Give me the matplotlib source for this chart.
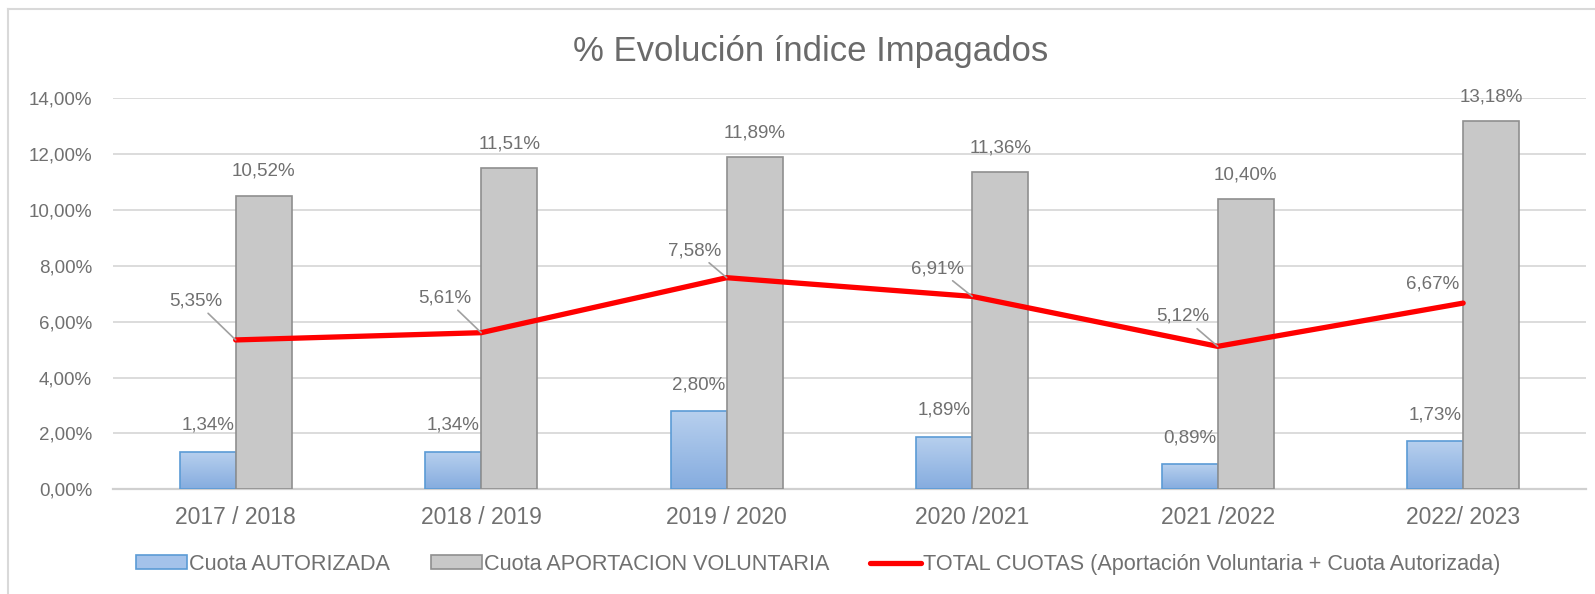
import matplotlib
matplotlib.use("Agg")
import matplotlib.pyplot as plt
import numpy as np
from matplotlib.lines import Line2D
from matplotlib.patches import Patch
from matplotlib.ticker import FuncFormatter
from matplotlib.colors import LinearSegmentedColormap
from matplotlib import font_manager

categories = ["2017 / 2018", "2018 / 2019", "2019 / 2020", "2020 /2021", "2021 /2022", "2022/ 2023"]
cuota_autorizada = [1.34, 1.34, 2.80, 1.89, 0.89, 1.73]
cuota_voluntaria = [10.52, 11.51, 11.89, 11.36, 10.40, 13.18]
total_cuotas = [5.35, 5.61, 7.58, 6.91, 5.12, 6.67]
yticks = [0, 2, 4, 6, 8, 10, 12, 14]

# label offsets (points) for line labels, style only
line_label_offsets = [(-29, 28), (-26, 25), (-23, 19.5), (-25, 20), (-25, 21.5), (-22, 14)]
line_label_leader = [True, True, True, True, True, False]

plt.rcParams['font.family'] = ['Liberation Sans', 'DejaVu Sans']
names = {f.name for f in font_manager.fontManager.ttflist}
if 'Liberation Sans Narrow' in names:
    NUMFAM = ['Liberation Sans Narrow', 'Liberation Sans', 'DejaVu Sans']
    NFS = 15
else:
    NUMFAM = ['Liberation Sans', 'DejaVu Sans']
    NFS = 13.5
TXT = '#707070'

fig = plt.figure(figsize=(15.95, 5.94), dpi=100)
ax = fig.add_axes([0.0708, 0.1763, 0.9235, 0.6579])

x = np.arange(len(categories))
w = 0.228

# blue bars with gradient
blue_bars = ax.bar(x - w/2, cuota_autorizada, width=w, color='none',
                   edgecolor='#5b9bd5', linewidth=1.2, zorder=3)
grad = np.linspace(0, 1, 256).reshape(-1, 1)
cmap_blue = LinearSegmentedColormap.from_list('b', ['#85acdf', '#b8d0ee'])
for b in blue_bars:
    bx, by = b.get_x(), b.get_y()
    bw, bh = b.get_width(), b.get_height()
    im = ax.imshow(grad, cmap=cmap_blue, aspect='auto', origin='lower',
                   extent=(bx, bx + bw, by, by + bh), zorder=2.5)
    im.set_clip_path(b)

gray_bars = ax.bar(x + w/2, cuota_voluntaria, width=w, color='#c8c8c8',
                   edgecolor='#8f8f8f', linewidth=1.2, zorder=3.2)

ax.plot(x, total_cuotas, color='#ff0000', linewidth=3.8, zorder=4,
        solid_capstyle='round', solid_joinstyle='round')

def fmt(v):
    return f"{v:.2f}%".replace('.', ',')

# data labels
for xi, v in zip(x, cuota_autorizada):
    ax.annotate(fmt(v), (xi - w/2, v), xytext=(0, 19),
                textcoords='offset points', ha='center', va='center',
                fontsize=NFS, family=NUMFAM, color=TXT, zorder=3.1)
for xi, v in zip(x, cuota_voluntaria):
    ax.annotate(fmt(v), (xi + w/2, v), xytext=(0, 17.5),
                textcoords='offset points', ha='center', va='center',
                fontsize=NFS, family=NUMFAM, color=TXT, zorder=5)
for xi, v, off, ld in zip(x, total_cuotas, line_label_offsets, line_label_leader):
    kw = {}
    if ld:
        kw['arrowprops'] = dict(arrowstyle='-', color='#a0a0a0', lw=1.2,
                                shrinkA=1, shrinkB=0)
    ax.annotate(fmt(v), (xi, v), xytext=off,
                textcoords='offset points', ha='center', va='center',
                fontsize=NFS, family=NUMFAM, color=TXT, zorder=5, **kw)

ax.set_xlim(-0.5, len(categories) - 0.5)
ax.set_ylim(0, 14)
ax.set_yticks(yticks)
ax.yaxis.set_major_formatter(FuncFormatter(lambda v, p: fmt(v)))
ax.set_xticks(x)
ax.set_xticklabels(categories)
ax.tick_params(axis='both', length=0, labelcolor=TXT)
ax.tick_params(axis='y', pad=15)
ax.tick_params(axis='x', pad=12, labelsize=16.5)
for t in ax.get_yticklabels():
    t.set_fontfamily(NUMFAM)
    t.set_fontsize(NFS)
ax.grid(axis='y', color='#d9d9d9', linewidth=1.3, zorder=0)
ax.set_axisbelow(True)
for s in ['top', 'right', 'left']:
    ax.spines[s].set_visible(False)
ax.spines['bottom'].set_color('#d0d0d0')
ax.spines['bottom'].set_linewidth(1.6)
ax.spines['bottom'].set_zorder(1)

fig.text(0.508, 0.913, "% Evolución índice Impagados", ha='center', va='center',
         fontsize=25, color='#6a6a6a')

handles = [Patch(facecolor='#a4c2ea', edgecolor='#5b9bd5', linewidth=1.2),
           Patch(facecolor='#c8c8c8', edgecolor='#8f8f8f', linewidth=1.2),
           Line2D([0], [0], color='#ff0000', linewidth=3.8, solid_capstyle='round')]
labels = ["Cuota AUTORIZADA", "Cuota APORTACION VOLUNTARIA",
          "TOTAL CUOTAS (Aportación Voluntaria + Cuota Autorizada)"]
leg = fig.legend(handles, labels, loc='center', bbox_to_anchor=(0.513, 0.050), ncol=3,
                 frameon=False, fontsize=15.6, handlelength=2.35, handleheight=0.6,
                 handletextpad=0.1, columnspacing=1.9, labelcolor=TXT)

# chart border
fig.add_artist(Line2D([8/1595, 8/1595], [0, 1 - 9/594], transform=fig.transFigure,
                      color='#d9d9d9', linewidth=1.5))
fig.add_artist(Line2D([8/1595, 1], [1 - 9/594, 1 - 9/594], transform=fig.transFigure,
                      color='#d9d9d9', linewidth=1.5))

fig.savefig('out.png', dpi=100)
